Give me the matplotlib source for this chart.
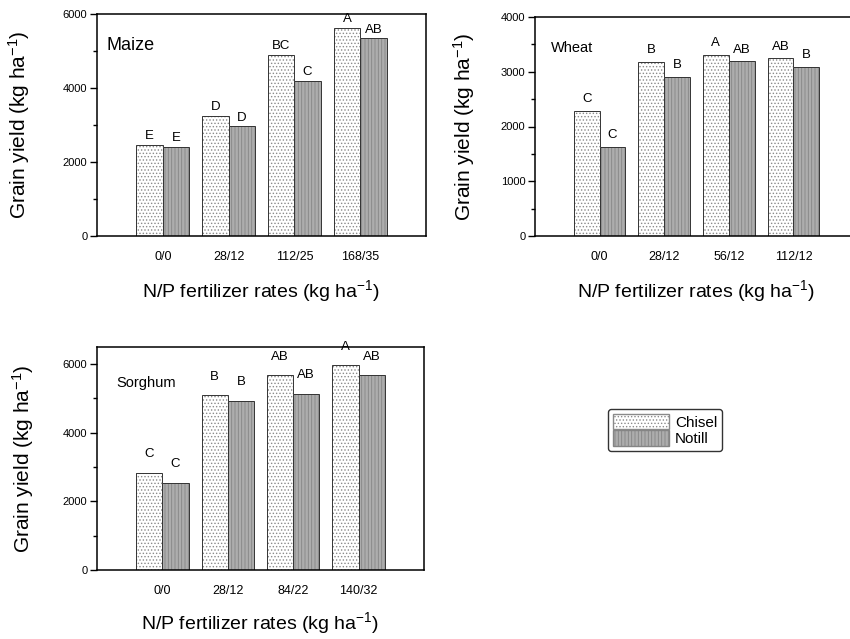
import matplotlib
matplotlib.use("Agg")
import matplotlib.pyplot as plt
from matplotlib.patches import Patch
import numpy as np

plt.rcParams['font.family'] = ['Liberation Sans', 'DejaVu Sans']
plt.rcParams['mathtext.fontset'] = 'custom'
plt.rcParams['mathtext.rm'] = 'Liberation Sans'
plt.rcParams['mathtext.default'] = 'regular'
plt.rcParams['hatch.linewidth'] = 0.6

# Grain yield (kg/ha) by N/P fertilizer rate, chisel vs. no-till
maize_rates = ["0/0", "28/12", "112/25", "168/35"]
maize_chisel = [2470, 3240, 4900, 5620]
maize_notill = [2400, 2960, 4190, 5340]
maize_chisel_letters = ["E", "D", "BC", "A"]
maize_notill_letters = ["E", "D", "C", "AB"]

wheat_rates = ["0/0", "28/12", "56/12", "112/12"]
wheat_chisel = [2290, 3185, 3305, 3245]
wheat_notill = [1625, 2905, 3190, 3095]
wheat_chisel_letters = ["C", "B", "A", "AB"]
wheat_notill_letters = ["C", "B", "AB", "B"]

sorghum_rates = ["0/0", "28/12", "84/22", "140/32"]
sorghum_chisel = [2830, 5100, 5670, 5970]
sorghum_notill = [2550, 4940, 5140, 5680]
sorghum_chisel_letters = ["C", "B", "AB", "A"]
sorghum_notill_letters = ["C", "B", "AB", "AB"]

W, H = 850, 639
fig = plt.figure(figsize=(W / 100, H / 100), dpi=100)


def px_axes(left, top, right, bottom):
    return fig.add_axes([left / W, 1 - bottom / H, (right - left) / W, (bottom - top) / H])


CHISEL_FACE = "white"
CHISEL_HATCH_COLOR = "#8a8a8a"
NOTILL_FACE = "#adadad"
NOTILL_HATCH_COLOR = "#858585"
WIDTH = 0.4


def panel(ax, rates, chisel, notill, c_letters, n_letters, ymax, major, name,
          name_size, name_xy, label_pad, ylabel_pad, xlabel_pad):
    x = np.arange(1, len(rates) + 1)
    xc = x - WIDTH / 2
    xn = x + WIDTH / 2
    ax.bar(xc, chisel, WIDTH, color=CHISEL_FACE, hatch=".....",
           edgecolor=CHISEL_HATCH_COLOR, linewidth=0)
    ax.bar(xc, chisel, WIDTH, facecolor="none", edgecolor="#333333", linewidth=0.7)
    ax.bar(xn, notill, WIDTH, color=NOTILL_FACE, hatch="|||||",
           edgecolor=NOTILL_HATCH_COLOR, linewidth=0)
    ax.bar(xn, notill, WIDTH, facecolor="none", edgecolor="#333333", linewidth=0.7)
    for xi, v, t in zip(xc, chisel, c_letters):
        ax.annotate(t, (xi, v), xytext=(0, label_pad), textcoords="offset points",
                    ha="center", va="bottom", fontsize=9.5)
    for xi, v, t in zip(xn, notill, n_letters):
        ax.annotate(t, (xi, v), xytext=(0, label_pad), textcoords="offset points",
                    ha="center", va="bottom", fontsize=9.5)
    ax.set_xlim(0, 5)
    ax.set_ylim(0, ymax)
    ax.set_xticks(x)
    ax.set_xticklabels(rates, fontsize=9)
    ax.tick_params(axis="x", length=0, pad=11)
    ax.set_yticks(np.arange(0, ymax + 1, major))
    ax.set_yticks(np.arange(0, ymax + 1, major / 2), minor=True)
    ax.tick_params(axis="y", which="major", length=5, width=1, labelsize=8, pad=2)
    ax.tick_params(axis="y", which="minor", length=3, width=1)
    for s in ax.spines.values():
        s.set_linewidth(1.1)
    ax.text(name_xy[0], name_xy[1], name, transform=ax.transAxes,
            fontsize=name_size, ha="left", va="center")
    ax.set_ylabel("Grain yield (kg ha$^{-1}$)", fontsize=15, labelpad=ylabel_pad)
    ax.set_xlabel("N/P fertilizer rates (kg ha$^{-1}$)", fontsize=14,
                  labelpad=xlabel_pad)


ax1 = px_axes(97, 14, 426, 236)
panel(ax1, maize_rates, maize_chisel, maize_notill, maize_chisel_letters,
      maize_notill_letters, 6000, 2000, "Maize", 13, (0.03, 0.86), 2, 22, 11)

ax2 = px_axes(535, 17, 858, 236)
panel(ax2, wheat_rates, wheat_chisel, wheat_notill, wheat_chisel_letters,
      wheat_notill_letters, 4000, 1000, "Wheat", 10.5, (0.05, 0.86), 4, 17, 11)

ax3 = px_axes(97, 347, 424, 570)
panel(ax3, sorghum_rates, sorghum_chisel, sorghum_notill, sorghum_chisel_letters,
      sorghum_notill_letters, 6500, 2000, "Sorghum", 10.5, (0.06, 0.84), 9, 19, 9)

handles = [Patch(facecolor=CHISEL_FACE, hatch=".....", edgecolor=CHISEL_HATCH_COLOR),
           Patch(facecolor=NOTILL_FACE, hatch="|||||", edgecolor=NOTILL_HATCH_COLOR)]
leg = fig.legend(handles, ["Chisel", "Notill"], loc="upper left",
                 bbox_to_anchor=(608 / W, 1 - 409 / H), fontsize=11,
                 frameon=True, fancybox=True, edgecolor="black",
                 handlelength=3.7, handleheight=1.2, handletextpad=0.4,
                 borderpad=0.3, labelspacing=0.05, borderaxespad=0)
leg.get_frame().set_linewidth(1.0)

fig.savefig("out.png", dpi=100)
